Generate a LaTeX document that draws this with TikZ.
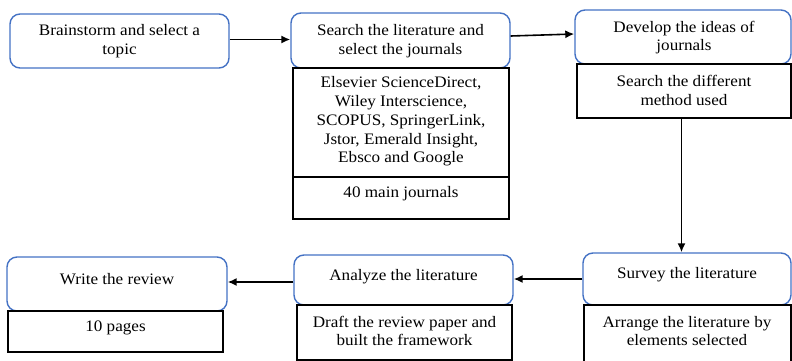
\documentclass[tikz,border=0pt]{standalone}
\usepackage{fontspec}
\setmainfont{Liberation Serif}[FakeStretch=1.07]
\usetikzlibrary{arrows.meta}
\definecolor{wblue}{HTML}{4472C4}
\tikzset{
  rbox/.style={draw=wblue, line width=1.4pt, rounded corners=10pt, inner sep=0pt},
  sbox/.style={draw=black, line width=1.7pt, inner sep=0pt},
  txt/.style={align=center, inner sep=0pt, font=\fontsize{16}{18.7}\selectfont},
  arr/.style={draw=black, line width=1.6pt, -{Latex[length=9pt,width=8pt]}}
}
\newcommand{\bx}[6]{% style, name, x1, y1, x2, y2
  \node[#1, minimum width={#5-#3}, minimum height={#6-#4}] (#2) at ({(#3+#5)/2},{(#4+#6)/2}) {};}
\begin{document}
\begin{tikzpicture}[x=1pt,y=-1pt]
\useasboundingbox (0,0) rectangle (792,361);
\clip (0,0) rectangle (792,361);
% boxes
\bx{rbox}{b1}{10}{14}{229}{68}
\bx{rbox}{b2}{291}{13}{510}{68}
\bx{sbox}{r2a}{293}{68}{509}{177}
\bx{sbox}{r2b}{293}{177}{509}{219}
\bx{rbox}{b3}{575}{10}{791}{64}
\bx{sbox}{r3}{577}{64}{791}{118}
\bx{rbox}{b6}{583}{253}{791}{305}
\bx{sbox}{r6}{584}{305}{791}{372}
\bx{rbox}{b5}{294}{255}{513}{305}
\bx{sbox}{r5}{297}{305}{512}{360}
\bx{rbox}{b4}{7}{257}{227}{311}
\bx{sbox}{r4}{8}{311}{223}{352}
% texts
\node[txt] (t1) at (119.5,41) {Brainstorm and select a\\topic};
\node[txt] (t2) at (400.5,41) {Search the literature and\\select the journals};
\node[txt] (t2a) at (401,121.5) {Elsevier ScienceDirect,\\Wiley Interscience,\\SCOPUS, SpringerLink,\\Jstor, Emerald Insight,\\Ebsco and Google};
\node[txt] (t2b) at (401,194) {40 main journals};
\node[txt] (t3) at (684,37.5) {Develop the ideas of\\journals};
\node[txt] (t3a) at (684,90.5) {Search the different\\method used};
\node[txt] (t6) at (687,275) {Survey the literature};
\node[txt] (t6a) at (687,331) {Arrange the literature by\\elements selected};
\node[txt] (t5) at (403.5,277) {Analyze the literature};
\node[txt] (t5a) at (404.5,331) {Draft the review paper and\\built the framework};
\node[txt] (t4) at (117,279) {Write the review};
\node[txt] (t4a) at (115.5,328) {10 pages};
% connectors
\draw[arr] ([yshift=1.5pt]b1.east) -- ([yshift=1.5pt]b1.east -| b2.west);
\draw[arr] ([yshift=4.5pt]b2.east) -- ([yshift=3pt]b3.west);
\draw[arr] ([xshift=-2.5pt]r3.south) -- ([xshift=-2.5pt]r3.south |- b6.north);
\draw[arr] (b6.west) -- (b6.west -| b5.east);
\draw[arr] ([yshift=-2pt]b5.west) -- ([yshift=-2pt]b5.west -| b4.east);
\end{tikzpicture}
\end{document}
